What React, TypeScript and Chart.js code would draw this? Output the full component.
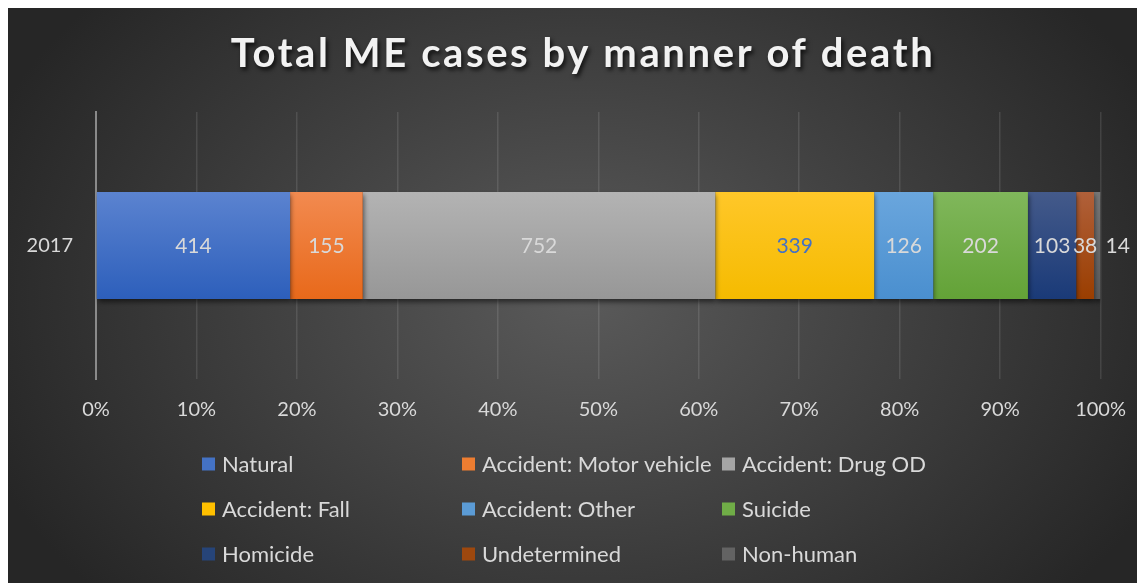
import React, { useEffect, useRef } from "react";
import { Chart, registerables } from "chart.js";

Chart.register(...registerables);

const titleText = "Total ME cases by manner of death";
const categories = ["2017"];
const seriesNames = [
  "Natural",
  "Accident: Motor vehicle",
  "Accident: Drug OD",
  "Accident: Fall",
  "Accident: Other",
  "Suicide",
  "Homicide",
  "Undetermined",
  "Non-human",
];
const seriesValues = [414, 155, 752, 339, 126, 202, 103, 38, 14];
const tickLabels = ["0%", "10%", "20%", "30%", "40%", "50%", "60%", "70%", "80%", "90%", "100%"];
const baseColors = ["#4472c4", "#ed7d31", "#a5a5a5", "#ffc000", "#5b9bd5", "#70ad47", "#264478", "#9e480e", "#636363"];
const topColors = ["#5b83d0", "#f28a50", "#b3b3b3", "#ffc729", "#6aa6dd", "#80b75b", "#445a8a", "#b0603a", "#777777"];
const bottomColors = ["#2d5fbb", "#e8691a", "#979797", "#f5bb00", "#4a8fcf", "#63a237", "#1a3a78", "#9a3e00", "#5a5a5a"];
const labelColors = ["#d9d9d9", "#d9d9d9", "#d9d9d9", "#4472c4", "#d9d9d9", "#d9d9d9", "#d9d9d9", "#d9d9d9", "#d9d9d9"];

const FONT = "Lato, 'Open Sans', sans-serif";

const backgroundPlugin = {
  id: "bgPlugin",
  beforeDraw(chart: any) {
    const { ctx, width, height } = chart;
    ctx.save();
    const cx = width * 0.505;
    const cy = height * 0.5;
    const rx = width * 0.56;
    const ry = height * 0.8;
    ctx.translate(cx, cy);
    ctx.scale(1, ry / rx);
    const g = ctx.createRadialGradient(0, 0, 0, 0, 0, rx);
    g.addColorStop(0, "#5a5a5a");
    g.addColorStop(1, "#262626");
    ctx.fillStyle = g;
    ctx.fillRect(-cx - 10, (-cy - 10) * (rx / ry), width + 20, (height + 20) * (rx / ry));
    ctx.restore();
  },
};

const shadowPlugin = {
  id: "barShadow",
  beforeDatasetsDraw(chart: any) {
    const ctx = chart.ctx;
    ctx.save();
    ctx.shadowColor = "rgba(0,0,0,0.55)";
    ctx.shadowBlur = 5;
    ctx.shadowOffsetX = 1;
    ctx.shadowOffsetY = 3;
  },
  afterDatasetsDraw(chart: any) {
    chart.ctx.restore();
  },
};

const labelsPlugin = {
  id: "valueLabels",
  afterDatasetsDraw(chart: any) {
    const ctx = chart.ctx;
    ctx.save();
    ctx.font = `21px ${FONT}`;
    ctx.textBaseline = "middle";
    chart.data.datasets.forEach((ds: any, i: number) => {
      const meta = chart.getDatasetMeta(i);
      meta.data.forEach((el: any, j: number) => {
        const raw = ds.rawValues[j];
        ctx.fillStyle = labelColors[i];
        if (i === chart.data.datasets.length - 1) {
          ctx.textAlign = "left";
          ctx.fillText(String(raw), el.x + 5, el.y + 1);
        } else {
          ctx.textAlign = "center";
          ctx.fillText(String(raw), (el.x + el.base) / 2, el.y + 1);
        }
      });
    });
    ctx.restore();
  },
};

const titleLegendPlugin = {
  id: "titleLegend",
  afterDraw(chart: any) {
    const ctx = chart.ctx;
    ctx.save();
    // title
    ctx.font = `bold 40px ${FONT}`;
    (ctx as any).letterSpacing = "2.6px";
    ctx.textAlign = "center";
    ctx.textBaseline = "middle";
    ctx.shadowColor = "rgba(0,0,0,0.75)";
    ctx.shadowBlur = 4;
    ctx.shadowOffsetX = 2;
    ctx.shadowOffsetY = 3;
    ctx.fillStyle = "#f2f2f2";
    ctx.fillText(titleText, 575, 46);
    ctx.restore();

    // legend
    ctx.save();
    ctx.font = `22px ${FONT}`;
    ctx.textAlign = "left";
    ctx.textBaseline = "middle";
    const colX = [194, 454, 714];
    const rowY = [456, 501, 546];
    chart.data.datasets.forEach((ds: any, i: number) => {
      const x = colX[i % 3];
      const y = rowY[Math.floor(i / 3)];
      ctx.fillStyle = baseColors[i];
      ctx.fillRect(x, y - 6.5, 13, 13);
      ctx.fillStyle = "#d9d9d9";
      ctx.fillText(ds.label, x + 20, y + 1);
    });
    ctx.restore();
  },
};

export default function App() {
  const ref = useRef<HTMLCanvasElement>(null);

  useEffect(() => {
    document.body.style.overflow = "hidden";
    if (!ref.current) return;
    const total = seriesValues.reduce((a, b) => a + b, 0);
    const datasets = seriesNames.map((name, i) => ({
      label: name,
      data: [(seriesValues[i] / total) * 100],
      rawValues: [seriesValues[i]],
      backgroundColor: (c: any) => {
        const area = c.chart.chartArea;
        if (!area) return baseColors[i];
        const h = area.bottom - area.top;
        const g = c.chart.ctx.createLinearGradient(0, area.top + h * 0.3, 0, area.top + h * 0.7);
        g.addColorStop(0, topColors[i]);
        g.addColorStop(1, bottomColors[i]);
        return g;
      },
      borderWidth: 0,
      categoryPercentage: 1,
      barPercentage: 0.4,
    }));

    const chart = new Chart(ref.current, {
      type: "bar",
      data: { labels: categories, datasets: datasets as any },
      options: {
        indexAxis: "y",
        animation: false,
        responsive: false,
        maintainAspectRatio: false,
        layout: { padding: { top: 104, right: 39, bottom: 154, left: 0 } },
        plugins: {
          legend: { display: false },
          title: { display: false },
          tooltip: { enabled: false },
        },
        scales: {
          x: {
            stacked: true,
            min: 0,
            max: 100,
            ticks: {
              stepSize: 10,
              padding: 19,
              color: "#d9d9d9",
              font: { family: FONT, size: 20 },
              callback: (_v: any, idx: number) => tickLabels[idx],
            },
            grid: { color: "rgba(255,255,255,0.11)", lineWidth: 1.5, drawTicks: false },
            border: { display: false },
            afterFit: (s: any) => {
              s.height = 50;
            },
          },
          y: {
            stacked: true,
            ticks: {
              padding: 23,
              color: "#d9d9d9",
              font: { family: FONT, size: 20 },
            },
            grid: { display: false, drawTicks: false },
            border: { display: true, color: "#8a8a8a", width: 2 },
            afterFit: (s: any) => {
              s.width = 88;
            },
          },
        },
      },
      plugins: [backgroundPlugin, shadowPlugin, labelsPlugin, titleLegendPlugin],
    });
    (document as any).fonts?.ready?.then(() => chart.update());
    return () => chart.destroy();
  }, []);

  return (
    <div style={{ width: 1137, height: 575 }}>
      <canvas ref={ref} width={1137} height={575} style={{ display: "block", width: 1137, height: 575 }} />
    </div>
  );
}
